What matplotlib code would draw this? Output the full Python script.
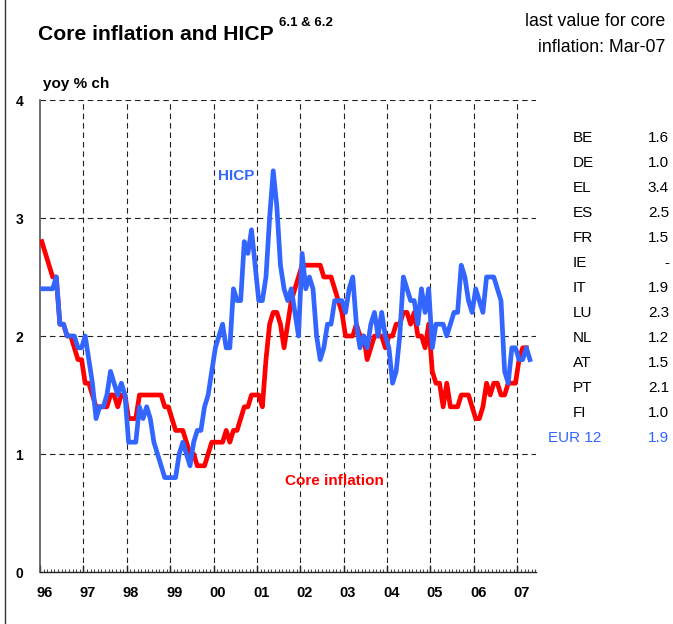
import numpy as np
import matplotlib
matplotlib.use('Agg')
import matplotlib.pyplot as plt
import matplotlib.transforms as mtransforms

plt.rcParams['font.family'] = ['Liberation Sans', 'DejaVu Sans']

# monthly yoy % changes, starting Jan 1996
core_inflation = [
    2.8, 2.7, 2.6, 2.5, 2.5, 2.1, 2.1, 2.0, 2.0, 1.9, 1.8, 1.8,  # 96
    1.6, 1.6, 1.5, 1.4, 1.4, 1.4, 1.4, 1.5, 1.5, 1.4, 1.5, 1.5,  # 97
    1.3, 1.3, 1.3, 1.5, 1.5, 1.5, 1.5, 1.5, 1.5, 1.5, 1.4, 1.4,  # 98
    1.3, 1.2, 1.2, 1.2, 1.1, 1.0, 1.0, 0.9, 0.9, 0.9, 1.0, 1.1,  # 99
    1.1, 1.1, 1.1, 1.2, 1.1, 1.2, 1.2, 1.3, 1.4, 1.4, 1.5, 1.5,  # 00
    1.5, 1.4, 1.8, 2.1, 2.2, 2.2, 2.1, 1.9, 2.1, 2.3, 2.4, 2.5,  # 01
    2.6, 2.6, 2.6, 2.6, 2.6, 2.6, 2.5, 2.5, 2.5, 2.4, 2.3, 2.2,  # 02
    2.0, 2.0, 2.0, 2.1, 2.0, 2.0, 1.8, 1.9, 2.0, 2.0, 2.0, 1.9,  # 03
    2.0, 2.0, 2.1, 2.1, 2.2, 2.2, 2.1, 2.2, 2.0, 2.0, 1.9, 2.1,  # 04
    1.7, 1.6, 1.6, 1.4, 1.6, 1.4, 1.4, 1.4, 1.5, 1.5, 1.5, 1.4,  # 05
    1.3, 1.3, 1.4, 1.6, 1.5, 1.6, 1.6, 1.5, 1.5, 1.6, 1.6, 1.6,  # 06
    1.8, 1.9, 1.9,                                               # 07
]

hicp = [
    2.4, 2.4, 2.4, 2.4, 2.5, 2.1, 2.1, 2.0, 2.0, 2.0, 1.9, 1.9,  # 96
    2.0, 1.8, 1.6, 1.3, 1.4, 1.4, 1.5, 1.7, 1.6, 1.5, 1.6, 1.5,  # 97
    1.1, 1.1, 1.1, 1.4, 1.3, 1.4, 1.3, 1.1, 1.0, 0.9, 0.8, 0.8,  # 98
    0.8, 0.8, 1.0, 1.1, 1.0, 0.9, 1.1, 1.2, 1.2, 1.4, 1.5, 1.7,  # 99
    1.9, 2.0, 2.1, 1.9, 1.9, 2.4, 2.3, 2.3, 2.8, 2.7, 2.9, 2.6,  # 00
    2.3, 2.3, 2.5, 3.0, 3.4, 3.1, 2.6, 2.4, 2.3, 2.4, 2.2, 2.0,  # 01
    2.7, 2.4, 2.5, 2.4, 2.0, 1.8, 1.9, 2.1, 2.1, 2.3, 2.3, 2.3,  # 02
    2.2, 2.4, 2.5, 2.1, 1.9, 2.0, 1.9, 2.1, 2.2, 2.0, 2.2, 2.0,  # 03
    1.9, 1.6, 1.7, 2.0, 2.5, 2.4, 2.3, 2.3, 2.1, 2.4, 2.2, 2.4,  # 04
    1.9, 2.1, 2.1, 2.1, 2.0, 2.1, 2.2, 2.2, 2.6, 2.5, 2.3, 2.2,  # 05
    2.4, 2.3, 2.2, 2.5, 2.5, 2.5, 2.4, 2.3, 1.7, 1.6, 1.9, 1.9,  # 06
    1.8, 1.8, 1.9, 1.8,                                          # 07
]

year_labels = ['96', '97', '98', '99', '00', '01', '02', '03', '04', '05', '06', '07']

countries = ['BE', 'DE', 'EL', 'ES', 'FR', 'IE', 'IT', 'LU', 'NL', 'AT', 'PT', 'FI']
last_values = ['1.6', '1.0', '3.4', '2.5', '1.5', '-', '1.9', '2.3', '1.2', '1.5', '2.1', '1.0']
euro_area_value = '1.9'

RED = '#ff0000'
BLUE = '#3366ff'
W, H = 673, 624


def fx(px):
    return px / W


def fy(py):
    return 1 - py / H


def month_pos(n):
    # points sit in the middle of each month
    return 1996 + (np.arange(n) + 0.5) / 12.0


fig = plt.figure(figsize=(W / 100, H / 100), dpi=100)
ax = fig.add_axes([fx(40), fy(572), (535.5 - 40) / W, (572 - 100) / H])

ax.plot(month_pos(len(core_inflation)), core_inflation, color=RED, lw=3.4,
        solid_joinstyle='round', zorder=3)
ax.plot(month_pos(len(hicp)), hicp, color=BLUE, lw=3.4,
        solid_joinstyle='round', zorder=4)

ax.set_xlim(1996, 2007.42)
ax.set_ylim(0, 4)

dash = (0, (5, 3.5))
for v in [1, 2, 3, 4]:
    ax.axhline(v, color='#222222', lw=0.8, ls=dash, zorder=1)
for yr in range(1997, 2008):
    ax.axvline(yr, color='#222222', lw=0.8, ls=dash, zorder=1)

for s in ['top', 'right']:
    ax.spines[s].set_visible(False)
ax.spines['left'].set_color('#555555')
ax.spines['left'].set_linewidth(1.2)
ax.spines['bottom'].set_color('#222222')
ax.spines['bottom'].set_linewidth(1.0)

ax.set_xticks(range(1996, 2008))
ax.set_xticklabels([])
ax.set_xticks(np.arange(1996, 2007.42, 1 / 12.0), minor=True)
ax.tick_params(axis='x', which='major', direction='in', length=5, width=1.0, color='#222222')
ax.tick_params(axis='x', which='minor', direction='in', length=2.5, width=0.6, color='#222222')

ax.set_yticks([0, 1, 2, 3, 4])
ax.set_yticklabels(['0', '1', '2', '3', '4'], fontsize=10, fontweight='bold')
ax.tick_params(axis='y', length=0, pad=12)

trans = mtransforms.blended_transform_factory(ax.transData, ax.transAxes)
for i, lab in enumerate(year_labels):
    ax.text(1996 + i + 0.1, -0.045, lab, transform=trans, ha='center', va='center',
            fontsize=10.5, fontweight='bold',
            family=['Liberation Sans Narrow', 'Liberation Sans'])

# labels inside the plot
fig.text(fx(236), fy(176), 'HICP', color=BLUE, fontsize=11, fontweight='bold',
         ha='center', va='center')
fig.text(fx(334), fy(481), 'Core inflation', color=RED, fontsize=11, fontweight='bold',
         ha='center', va='center')

# titles
fig.text(fx(38), fy(34), 'Core inflation and HICP', fontsize=15.2, fontweight='bold',
         ha='left', va='center')
fig.text(fx(279), fy(23), '6.1 & 6.2', fontsize=9.5, fontweight='bold',
         ha='left', va='center')
fig.text(fx(43), fy(84), 'yoy % ch', fontsize=11, fontweight='bold',
         ha='left', va='center')
fig.text(fx(665), fy(22), 'last value for core', fontsize=12.8, ha='right', va='center')
fig.text(fx(665), fy(48), 'inflation: Mar-07', fontsize=12.8, ha='right', va='center')

# table of last values
for i, (c, v) in enumerate(zip(countries, last_values)):
    yy = fy(138 + 25 * i)
    fig.text(fx(573), yy, c, fontsize=11, ha='left', va='center')
    fig.text(fx(669), yy, v, fontsize=11, ha='right', va='center')
yy = fy(138 + 25 * len(countries))
fig.text(fx(548), yy, 'EUR 12', fontsize=11, color=BLUE, ha='left', va='center')
fig.text(fx(669), yy, euro_area_value, fontsize=11, color=BLUE, ha='right', va='center')

# left frame line
fig.add_artist(plt.Line2D([fx(5), fx(5)], [0, 1], color='#333333', lw=1.0,
                          transform=fig.transFigure))

fig.savefig('out.png', dpi=100)
